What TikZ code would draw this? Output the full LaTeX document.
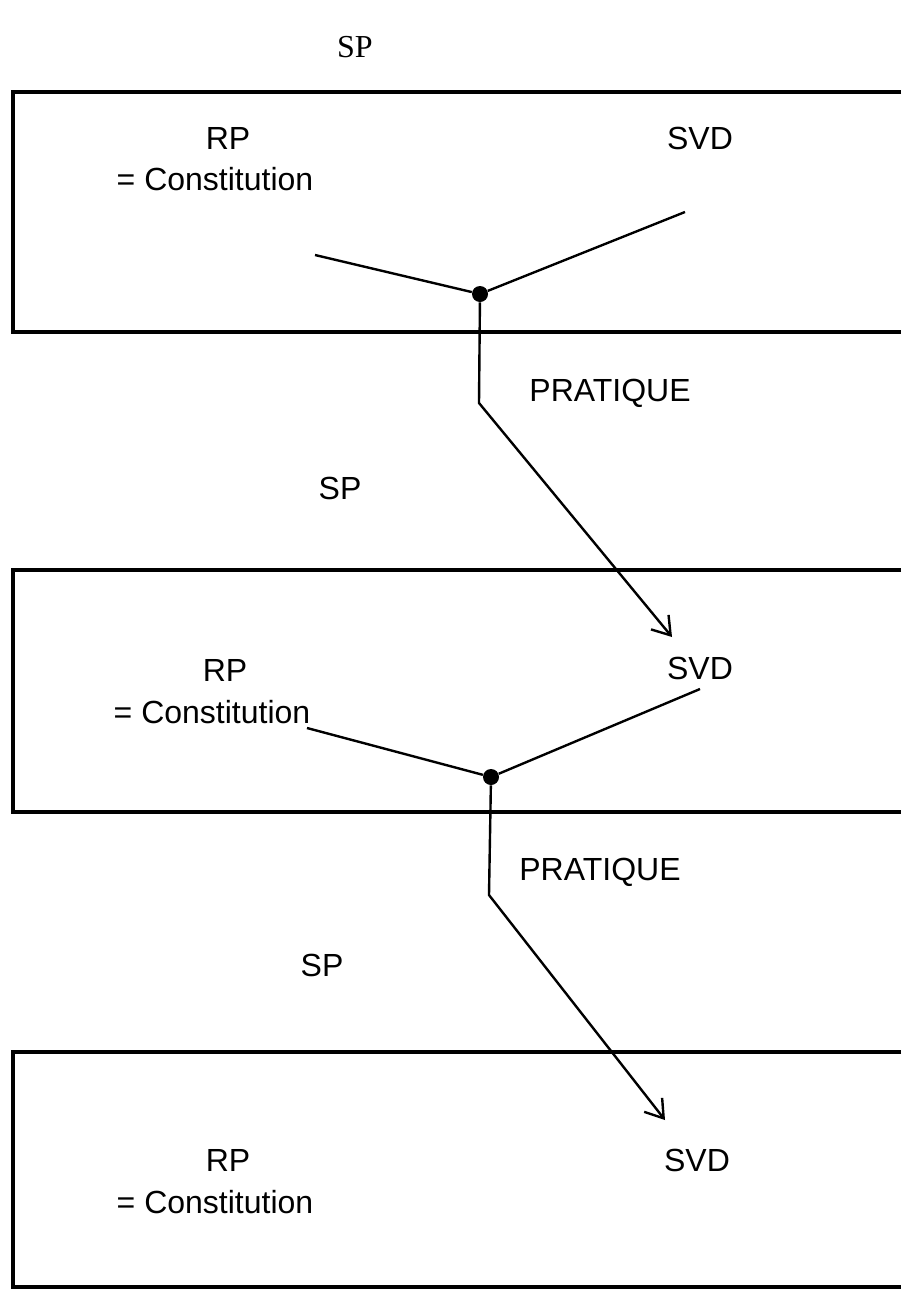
\documentclass[tikz,border=0pt]{standalone}
\usepackage{fontspec}
\setmainfont{Liberation Sans}
\newfontfamily\spserif{Liberation Serif}
\usetikzlibrary{arrows.meta,positioning}

\begin{document}
\begin{tikzpicture}[x=0.5pt,y=-0.5pt,every node/.style={font=\fontsize{16}{19}\selectfont,inner sep=1pt},frame/.style={line width=1.6pt},link/.style={line width=1.2pt},dot/.style={circle,fill,inner sep=0pt,minimum size=8pt},arr/.style={link,-{Straight Barb[length=3mm,width=4mm]}}]
\useasboundingbox (0,0) rectangle (901,1290);
\draw[frame] (901,92) -- (13,92) -- (13,332) -- (901,332);
\draw[frame] (901,570) -- (13,570) -- (13,812) -- (901,812);
\draw[frame] (901,1052) -- (13,1052) -- (13,1287) -- (901,1287);
\node[font=\spserif\fontsize{16}{19}\selectfont] (sp1) at (355,47) {SP};
\node (rp1) at (228,138) {RP};
\node[below=7pt of rp1,xshift=-6.5pt] (con1) {= Constitution};
\node (svd1) at (700,138) {SVD};
\node[dot] (j1) at (480,294) {};
\coordinate (r1) at (315,255);\coordinate (s1) at (685,212);\coordinate (k1) at (479,403);
\node (pr1) at (610,393) {PRATIQUE};
\node (sp2) at (340,488) {SP};
\node (rp2) at (225,670) {RP};
\node[below=7pt of rp2,xshift=-6.5pt] (con2) {= Constitution};
\node (svd2) at (700,668) {SVD};
\node[dot] (j2) at (491,777) {};
\coordinate (r2) at (307,728);\coordinate (s2) at (700,689);\coordinate (k2) at (489,895);
\coordinate (t1) at (672,637);\coordinate (t2) at (665,1120);
\node (pr2) at (600,872) {PRATIQUE};
\node (sp3) at (322,965) {SP};
\node (rp3) at (228,1160) {RP};
\node[below=7pt of rp3,xshift=-6.5pt] (con3) {= Constitution};
\node (svd3) at (697,1160) {SVD};
\draw[link] (r1) -- (j1);\draw[link] (s1) -- (j1);\draw[arr] (j1) -- (k1) -- (t1);
\draw[link] (r2) -- (j2);\draw[link] (s2) -- (j2);\draw[arr] (j2) -- (k2) -- (t2);
\end{tikzpicture}
\end{document}
